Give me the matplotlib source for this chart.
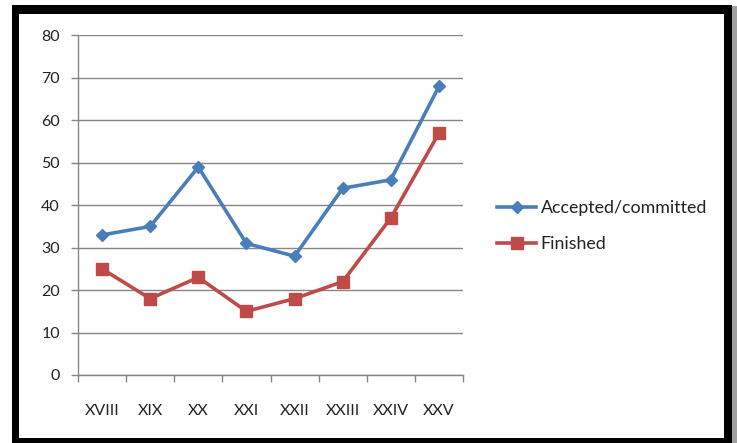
import matplotlib.pyplot as plt
from matplotlib.patches import Rectangle

plt.rcParams['font.family'] = ['Lato', 'DejaVu Sans']

terms = ['XVIII', 'XIX', 'XX', 'XXI', 'XXII', 'XXIII', 'XXIV', 'XXV']
accepted = [33, 35, 49, 31, 28, 44, 46, 68]
finished = [25, 18, 23, 15, 18, 22, 37, 57]

W, H = 737, 443
fig = plt.figure(figsize=(W / 100, H / 100), dpi=100)


def px(x0, y0, x1, y1):
    # pixel box (top-left origin) -> figure fraction rectangle
    return (x0 / W, 1 - y1 / H, (x1 - x0) / W, (y1 - y0) / H)


# black outer frame with a soft grey shadow on the right
x, y, w, h = px(732, 6, 737, 443)
fig.patches.append(Rectangle((x, y), w, h, transform=fig.transFigure,
                             facecolor='#a0a0a0', edgecolor='none', zorder=0))
for box in [(12, 5, 732, 14), (12, 5, 19, 443), (724, 5, 732, 443), (12, 438, 732, 443)]:
    x, y, w, h = px(*box)
    fig.patches.append(Rectangle((x, y), w, h, transform=fig.transFigure,
                                 facecolor='black', edgecolor='none', zorder=0))

ax = fig.add_axes(px(78, 35.5, 463, 375))
pos = [i + 0.5 for i in range(len(terms))]

ax.plot(pos, accepted, color='#4a7ebb', lw=2.6, marker='D', ms=6.5,
        label='Accepted/committed', zorder=3)
ax.plot(pos, finished, color='#be4b48', lw=2.6, marker='s', ms=9,
        label='Finished', zorder=3)

ax.set_xlim(0, len(terms))
ax.set_ylim(0, 80)
ax.set_yticks(range(0, 81, 10))
ax.set_xticks(range(len(terms) + 1))
ax.set_xticklabels([])
ax.set_xticks(pos, minor=True)
ax.set_xticklabels(terms, minor=True)
ax.tick_params(axis='x', which='major', length=5, color='#868686', width=1)
ax.tick_params(axis='x', which='minor', length=0, pad=21, labelsize=11.5, labelcolor='#222222')
ax.tick_params(axis='y', length=5, color='#868686', width=1, labelsize=11.5,
               labelcolor='#222222', pad=8)

ax.grid(axis='y', color='#868686', lw=1)
ax.set_axisbelow(True)
for side in ['top', 'right']:
    ax.spines[side].set_visible(False)
for side in ['left', 'bottom']:
    ax.spines[side].set_color('#868686')
    ax.spines[side].set_linewidth(1)

fig.legend(loc='center left', bbox_to_anchor=(481 / W, 1 - 226 / H), frameon=False,
           fontsize=12.8, handlelength=2.2, handletextpad=0.25, labelspacing=1.1,
           labelcolor='#222222')

fig.savefig('out.png', dpi=100)
